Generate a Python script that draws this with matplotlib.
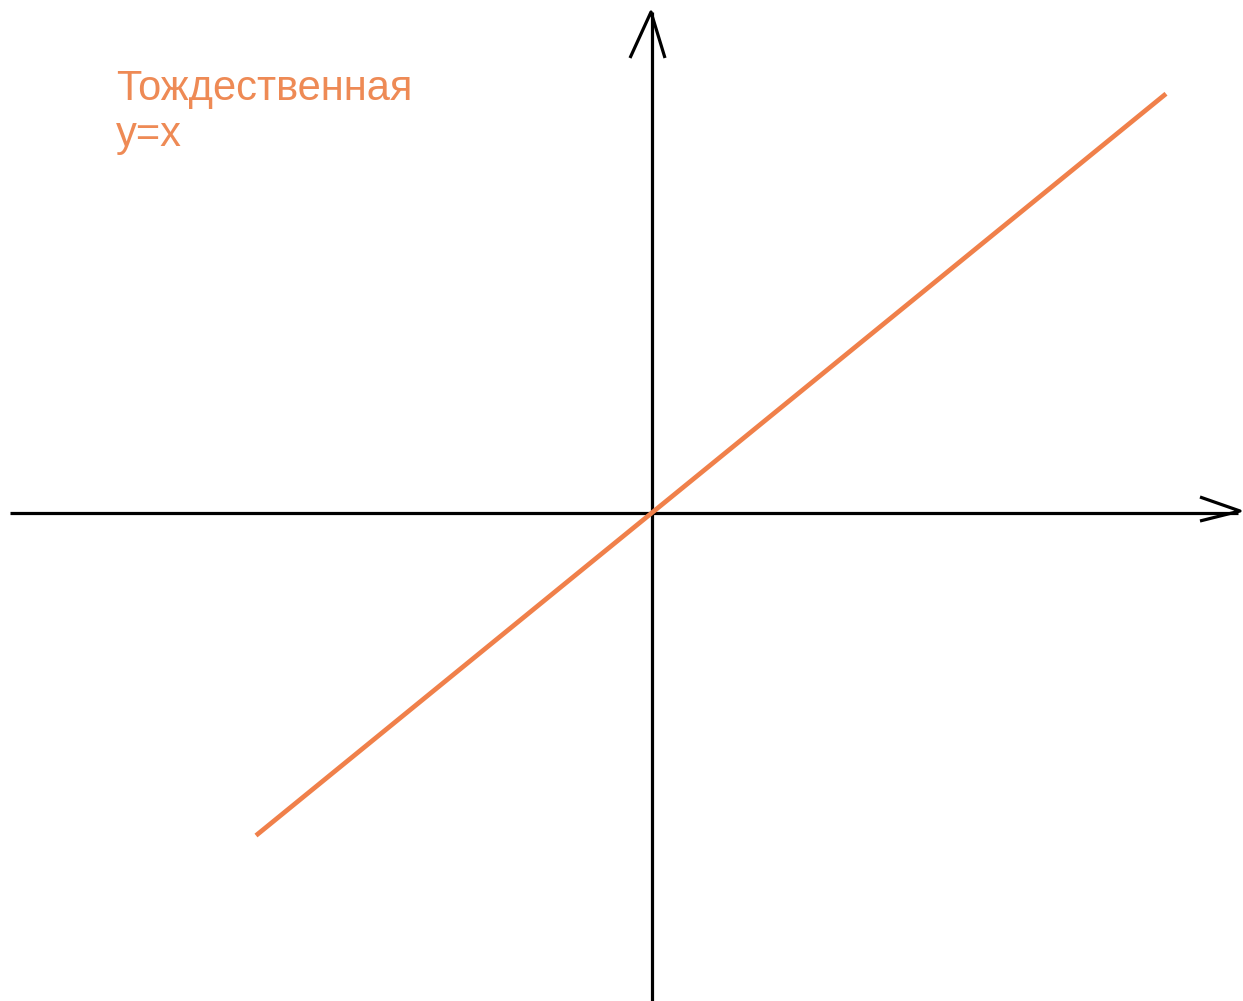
import matplotlib
matplotlib.use("Agg")
import matplotlib.pyplot as plt
import numpy as np

# data: identity function y = x
x_vals = [-3.96, 5.14]
y_vals = [-3.96, 5.14]
label_lines = ["Тождественная", "y=x"]

W, H = 1243, 1001
fig = plt.figure(figsize=(W / 100, H / 100), dpi=100)
ax = fig.add_axes([0, 0, 1, 1])
ax.set_xlim(-6.52, 5.91)
ax.set_ylim(-5.99, 6.29)
ax.axis("off")

# axes lines (axes fraction coords)
def fx(px):
    return px / W

def fy(py):
    return 1 - py / H

axkw = dict(color="black", lw=2.3, transform=ax.transAxes, solid_capstyle="butt")
ax.plot([fx(10), fx(1238)], [fy(513), fy(513)], **axkw)
ax.plot([fx(652), fx(652)], [fy(12), fy(1001)], **axkw)
# arrowheads
ax.plot([fx(630), fx(651), fx(665)], [fy(58), fy(12), fy(58)], **axkw)
ax.plot([fx(1200), fx(1240), fx(1200)], [fy(497), fy(511), fy(521)], **axkw)

# identity line
ax.plot(x_vals, y_vals, color="#F0804A", lw=3.4, solid_capstyle="butt")

ax.text(fx(116), fy(100), label_lines[0], transform=ax.transAxes,
        fontsize=30, color="#EE8A55", family="Liberation Sans", va="baseline")
ax.text(fx(116), fy(146), label_lines[1], transform=ax.transAxes,
        fontsize=30, color="#EE8A55", family="Liberation Sans", va="baseline")

fig.savefig("out.png", dpi=100)
